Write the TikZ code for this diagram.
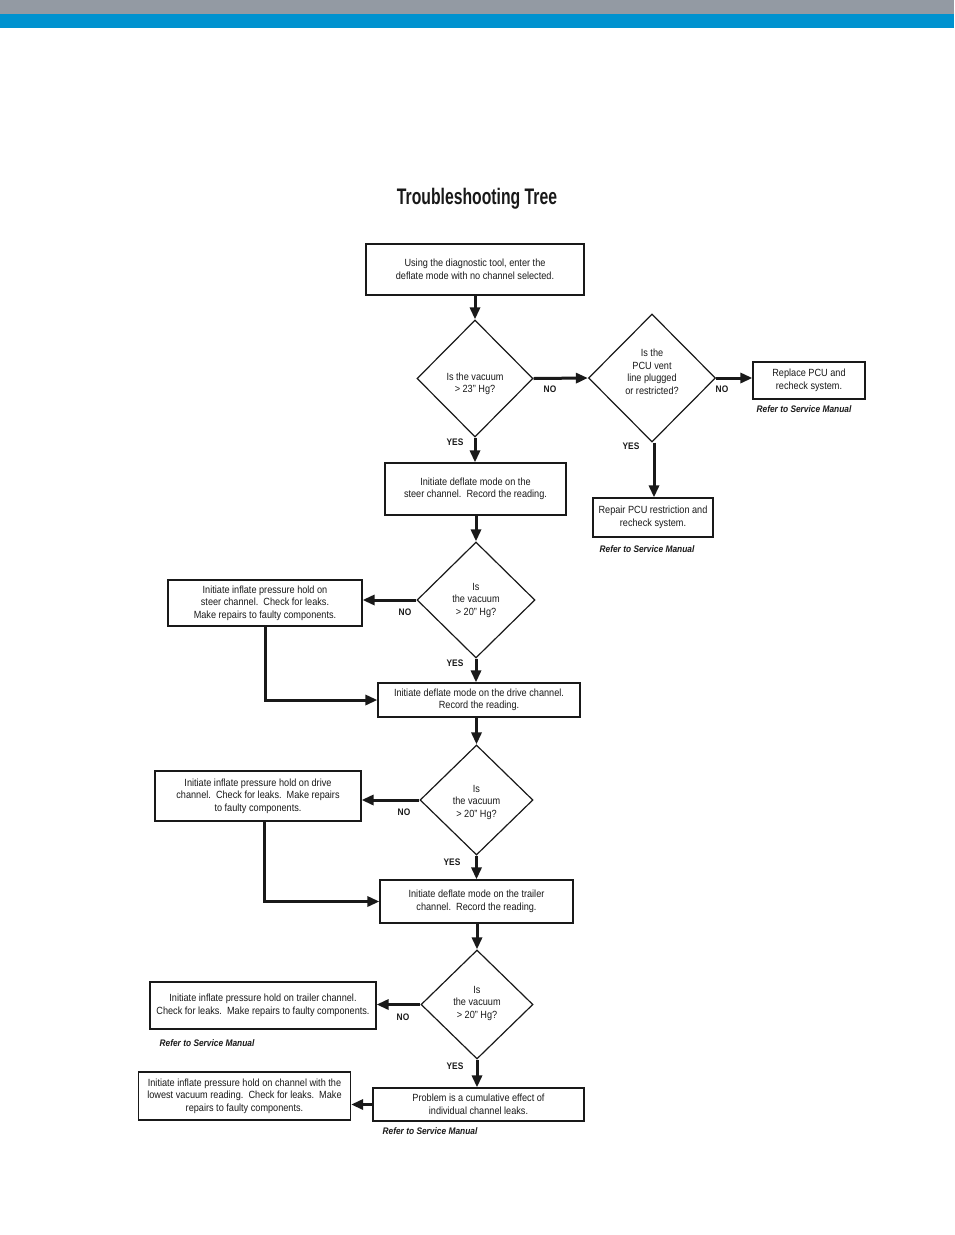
\documentclass[tikz,border=0pt]{standalone}
\usepackage{fontspec}
\setmainfont{Liberation Sans}[FakeStretch=0.88]
\newfontfamily\titlefont{Liberation Sans}[FakeStretch=0.70]
\usetikzlibrary{shapes.geometric,arrows.meta,calc}
\definecolor{bargray}{RGB}{147,154,163}
\definecolor{barblue}{RGB}{0,146,207}
\definecolor{ink}{RGB}{25,25,25}
\begin{document}
\begin{tikzpicture}[x=1pt,y=-1pt,
  box/.style={draw=ink,line width=1.2pt,rectangle,inner sep=0pt,align=center,
    font=\fontsize{10.4}{12.5}\selectfont,text=ink},
  dia/.style={draw=ink,line width=1.2pt,diamond,aspect=1,inner sep=0pt},
  dtext/.style={align=center,inner sep=0pt,font=\fontsize{10.4}{12.5}\selectfont,text=ink},
  lab/.style={inner sep=0pt,font=\fontsize{9.5}{11}\selectfont\bfseries,text=ink},
  ref/.style={inner sep=0pt,font=\fontsize{9.5}{11}\selectfont\bfseries\itshape,text=ink},
  flow/.style={draw=ink,line width=3pt,-{Triangle[length=12pt,width=10pt]}}
]
\useasboundingbox (0,0) rectangle (954,1235);
\fill[bargray] (0,0) rectangle (954,14);
\fill[barblue] (0,14) rectangle (954,28);

\node[inner sep=0pt,font=\titlefont\fontsize{22.5}{24}\selectfont\bfseries,text=ink] (title) at (477,199) {Troubleshooting Tree};

% boxes
\node[box,minimum width=218,minimum height=51] (b1) at (475,269.5) {Using the diagnostic tool, enter the\\deflate mode with no channel selected.};
\node[box,minimum width=181,minimum height=52] (b2) at (475.5,489) {Initiate deflate mode on the\\steer channel.\ \ Record the reading.};
\node[box,minimum width=112,minimum height=37] (b3) at (809,380.5) {Replace PCU and\\recheck system.};
\node[box,minimum width=120,minimum height=39] (b4) at (653,517.5) {Repair PCU restriction and\\recheck system.};
\node[box,minimum width=194,minimum height=46] (b5) at (265,603) {Initiate inflate pressure hold on\\steer channel.\ \ Check for leaks.\\Make repairs to faulty components.};
\node[box,minimum width=202,minimum height=34] (b6) at (479,700) {Initiate deflate mode on the drive channel.\\Record the reading.};
\node[box,minimum width=206,minimum height=50] (b7) at (258,796) {Initiate inflate pressure hold on drive\\channel.\ \ Check for leaks.\ \ Make repairs\\to faulty components.};
\node[box,minimum width=193,minimum height=43] (b8) at (476.5,901.5) {Initiate deflate mode on the trailer\\channel.\ \ Record the reading.};
\node[box,minimum width=226,minimum height=47] (b9) at (263,1005.5) {Initiate inflate pressure hold on trailer channel.\\Check for leaks.\ \ Make repairs to faulty components.};
\node[box,minimum width=211,minimum height=33] (b10) at (478.5,1104.5) {Problem is a cumulative effect of\\individual channel leaks.};
\node[box,minimum width=212,minimum height=48] (b11) at (244.5,1096) {Initiate inflate pressure hold on channel with the\\lowest vacuum reading.\ \ Check for leaks.\ \ Make\\repairs to faulty components.};

% diamonds
\node[dia,minimum width=116,minimum height=117] (d1) at (475,378.5) {};
\node[dtext] (d1t) at (475,384) {Is the vacuum\\> 23" Hg?};
\node[dia,minimum width=127,minimum height=128] (d2) at (652,378) {};
\node[dtext] (d2t) at (652,372) {Is the\\PCU vent\\line plugged\\or restricted?};
\node[dia,minimum width=118,minimum height=116] (d3) at (476,600) {};
\node[dtext] (d3t) at (476,600) {Is\\the vacuum\\> 20" Hg?};
\node[dia,minimum width=113,minimum height=110] (d4) at (476.5,800) {};
\node[dtext] (d4t) at (476.5,802) {Is\\the vacuum\\> 20" Hg?};
\node[dia,minimum width=112,minimum height=109] (d5) at (477,1004.5) {};
\node[dtext] (d5t) at (477,1003) {Is\\the vacuum\\> 20" Hg?};

% connectors
\draw[flow] (b1.south) -- (d1.north);
\draw[flow] (d1.south) -- (b2.north -| d1.south);
\draw[flow] (d1.east) -- (d2.west);
\draw[flow] (d2.east) -- (b3.west |- d2.east);
\draw[flow] ([xshift=2]d2.south) -- ([xshift=2]d2.south |- b4.north);
\draw[flow] (b2.south -| d3.north) -- (d3.north);
\draw[flow] (d3.west) -- (d3.west -| b5.east);
\draw[flow] (d3.south) -- (d3.south |- b6.north);
\draw[flow] (b5.south) |- (b6.west);
\draw[flow] (b6.south -| d4.north) -- (d4.north);
\draw[flow] (d4.west) -- (d4.west -| b7.east);
\draw[flow] (d4.south) -- (d4.south |- b8.north);
\draw[flow] ([xshift=6]b7.south) |- (b8.west);
\draw[flow] (b8.south -| d5.north) -- (d5.north);
\draw[flow] (d5.west) -- (d5.west -| b9.east);
\draw[flow] (d5.south) -- (d5.south |- b10.north);
\draw[flow] (b10.west) -- (b10.west -| b11.east);

% labels
\node[lab] (l1) at (455,442) {YES};
\node[lab] (l2) at (550,389) {NO};
\node[lab] (l3) at (722,389) {NO};
\node[lab] (l4) at (631,446) {YES};
\node[lab] (l5) at (405,612) {NO};
\node[lab] (l6) at (455,663) {YES};
\node[lab] (l7) at (404,812) {NO};
\node[lab] (l8) at (452,862) {YES};
\node[lab] (l9) at (403,1017) {NO};
\node[lab] (l10) at (455,1066) {YES};

\node[ref] (r1) at (804,409) {Refer to Service Manual};
\node[ref] (r2) at (647,549) {Refer to Service Manual};
\node[ref] (r3) at (207,1043) {Refer to Service Manual};
\node[ref] (r4) at (430,1131) {Refer to Service Manual};
\end{tikzpicture}
\end{document}
